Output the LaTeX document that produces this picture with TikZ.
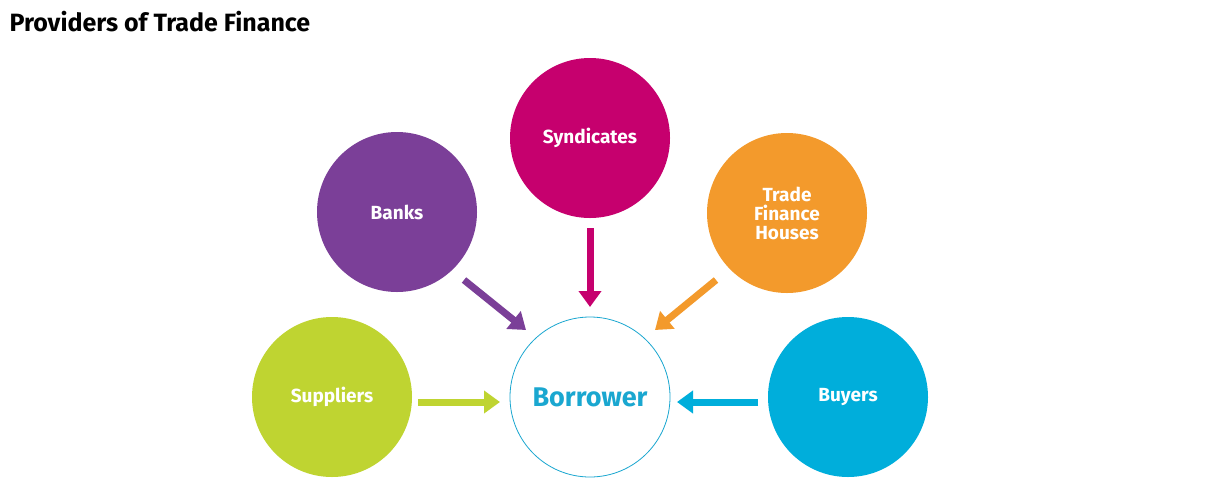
\documentclass[tikz,border=0pt]{standalone}
\usepackage{fontspec}
\setmainfont{Fira Sans}
\usetikzlibrary{arrows.meta}
\definecolor{cban}{HTML}{7B3F98}
\definecolor{csyn}{HTML}{C6006E}
\definecolor{ctfh}{HTML}{F39A2C}
\definecolor{csup}{HTML}{BFD431}
\definecolor{cbuy}{HTML}{00AEDB}
\definecolor{cbor}{HTML}{1AA7D0}
\begin{document}
\begin{tikzpicture}[x=1pt,y=-1pt,
  prov/.style={circle,minimum size=160pt,inner sep=0pt,text=white,font=\bfseries\fontsize{19}{22}\selectfont,align=center},
  arr/.style={line width=7pt,-{Triangle[length=16pt,width=22pt]}}]
\useasboundingbox[fill=white] (0,0) rectangle (1207,491);
\node[anchor=west,font=\bfseries\fontsize{25}{30}\selectfont] (title) at (6,22) {Providers of Trade Finance};
\node[prov,fill=csyn] (syn) at (590,138) {Syndicates};
\node[prov,fill=cban] (ban) at (397,212) {Banks};
\node[prov,fill=ctfh] (tfh) at (787,213) {Trade\\[-3pt]Finance\\[-3pt]Houses};
\node[prov,fill=csup] (sup) at (332,397) {Suppliers};
\node[prov,fill=cbuy] (buy) at (848,397) {Buyers};
\node[prov,draw=cbor,line width=0.8pt,fill=white,text=cbor,font=\bfseries\fontsize{27}{30}\selectfont] (bor) at (590,397) {Borrower};
\coordinate (a1) at (464,280); \coordinate (b1) at (526,330);
\coordinate (a2) at (590,228); \coordinate (b2) at (590,307);
\coordinate (a3) at (716,280); \coordinate (b3) at (655,330);
\coordinate (a4) at (418,402); \coordinate (b4) at (500,402);
\coordinate (a5) at (758,402); \coordinate (b5) at (677,402);
\draw[arr,cban] (a1) -- (b1);
\draw[arr,csyn] (a2) -- (b2);
\draw[arr,ctfh] (a3) -- (b3);
\draw[arr,csup] (a4) -- (b4);
\draw[arr,cbuy] (a5) -- (b5);
\end{tikzpicture}
\end{document}
